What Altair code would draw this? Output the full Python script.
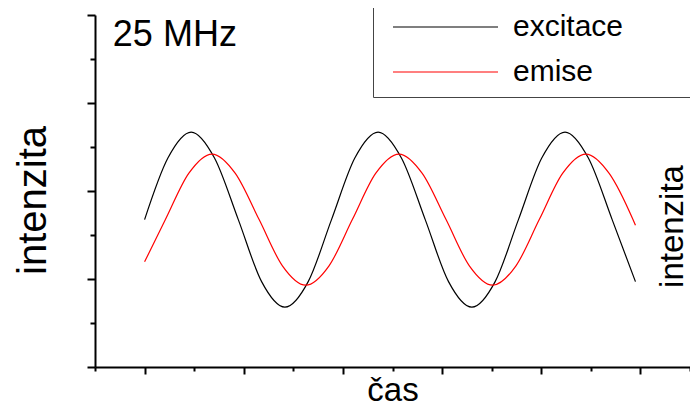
import altair as alt
import pandas as pd

FONT = "Liberation Sans"

# excitation curve (black)
black_x = [1.00, 1.47, 1.94, 2.41, 2.89, 3.36, 3.83, 4.30, 4.77, 5.24, 5.71,
           6.18, 6.66, 7.13, 7.60, 8.07, 8.54, 9.01, 9.48, 9.95, 10.43, 10.90]
black_y = [3.35, 4.75, 5.34, 4.75, 3.35, 1.94, 1.36, 1.94, 3.35, 4.75, 5.34,
           4.75, 3.35, 1.94, 1.36, 1.94, 3.35, 4.75, 5.34, 4.75, 3.35, 1.94]

# emission curve (red)
red_x = [1.00, 1.42, 1.89, 2.36, 2.83, 3.31, 3.78, 4.25, 4.72, 5.19, 5.66, 6.13,
         6.60, 7.08, 7.55, 8.02, 8.49, 8.96, 9.43, 9.90, 10.37, 10.85, 10.90]
red_y = [2.39, 3.35, 4.40, 4.84, 4.40, 3.35, 2.30, 1.86, 2.30, 3.35, 4.40, 4.84,
         4.40, 3.35, 2.30, 1.86, 2.30, 3.35, 4.40, 4.84, 4.40, 3.35, 3.22]

series_names = ["excitace", "emise"]
series_colors = ["#000000", "#ff0000"]

x_major = [1, 3, 5, 7, 9, 11]
x_minor = [0, 2, 4, 6, 8, 10, 12]
y_major = [0, 2, 4, 6, 8]
y_minor = [1, 3, 5, 7]

note_x = [0.36]
note_y = [7.30]
note_text = ["25 MHz"]

df_black = pd.DataFrame({"t": black_x, "v": black_y, "series": series_names[0]})
df_red = pd.DataFrame({"t": red_x, "v": red_y, "series": series_names[1]})
df_note = pd.DataFrame({"t": note_x, "v": note_y, "label": note_text})

xscale = alt.Scale(domain=[0, 12], nice=False, zero=False)
yscale = alt.Scale(domain=[0, 8], nice=False, zero=False)

color = alt.Color(
    "series:N",
    scale=alt.Scale(domain=series_names, range=series_colors),
    legend=alt.Legend(
        title=None, orient="none", legendX=278, legendY=-13,
        symbolType="M-5,0H100M400,0", symbolSize=4, symbolStrokeWidth=1.2,
        labelFont=FONT, labelFontSize=30, labelColor="black", labelOffset=100,
        rowPadding=15, padding=10, strokeColor="#444444", fillColor="white",
    ),
)

black = alt.Chart(df_black).mark_line(strokeWidth=1.2, interpolate="monotone").encode(
    x=alt.X("t:Q", scale=xscale, axis=alt.Axis(
        orient="bottom", values=x_major, tickSize=7, tickWidth=2, domainWidth=2,
        labels=False, grid=False, title="čas", titleFontSize=33,
        titleBaseline="alphabetic", titleY=33)),
    y=alt.Y("v:Q", scale=yscale, axis=alt.Axis(
        orient="left", values=y_major, tickSize=8, tickWidth=2, domainWidth=2,
        labels=False, grid=False, title="intenzita", titleFontSize=40,
        titleAngle=270, titleBaseline="alphabetic", titleAlign="center",
        titleX=-50, titleY=185)),
    color=color,
)

red = alt.Chart(df_red).mark_line(strokeWidth=1.2, interpolate="monotone").encode(
    x=alt.X("t:Q", scale=xscale, axis=alt.Axis(
        orient="bottom", values=x_minor, tickSize=4, tickWidth=2, domain=False,
        labels=False, grid=False, title=None)),
    y=alt.Y("v:Q", scale=yscale, axis=alt.Axis(
        orient="left", values=y_minor, tickSize=5, tickWidth=2, domain=False,
        labels=False, grid=False, title=None)),
    color=color,
)

note = alt.Chart(df_note).mark_text(
    font=FONT, fontSize=36, align="left", baseline="alphabetic", color="black"
).encode(
    x=alt.X("t:Q", scale=xscale, axis=None),
    y=alt.Y("v:Q", scale=yscale, axis=alt.Axis(
        orient="right", domain=False, ticks=False, labels=False, grid=False,
        title="intenzita", titleFontSize=33, titleAngle=270,
        titleBaseline="alphabetic", titleAlign="center", titleX=-8, titleY=211)),
    text="label:N",
)

chart = alt.layer(black, red, note).resolve_axis(
    x="independent", y="independent"
).properties(
    width=595, height=352,
    autosize=alt.AutoSizeParams(type="none"),
    padding={"left": 87, "top": 7, "right": 0, "bottom": 41},
).configure_view(stroke=None).configure_axis(
    domainColor="black", tickColor="black", titleFont=FONT,
    titleFontWeight="normal", titleColor="black",
)

chart.save("out.html", embed_options={"renderer": "svg", "actions": False})
